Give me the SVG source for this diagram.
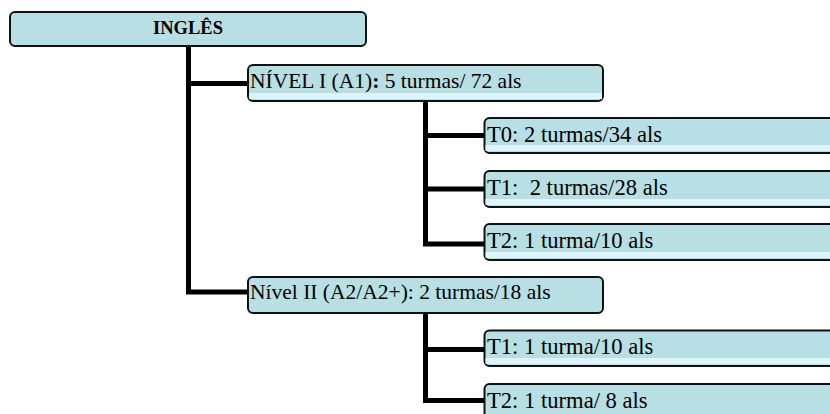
<svg xmlns="http://www.w3.org/2000/svg" width="830" height="414" viewBox="0 0 830 414">
  <style>
    .box { fill: #b8dfe3; stroke: #111; stroke-width: 2; }
    .strip { fill: #dff4fa; }
    .lbl { font-family: "Liberation Serif", "Times New Roman", serif; font-size: 21.5px; fill: #000; white-space: pre; }
    .sub { font-size: 22.6px; }
    .title { font-family: "Liberation Serif", "Times New Roman", serif; font-size: 18.5px; font-weight: bold; fill: #000; }
    .wire { fill: none; stroke: #000; stroke-width: 5; stroke-linejoin: miter; stroke-linecap: butt; }
  </style>
  <rect width="830" height="414" fill="#fff"/>

  <!-- tree connectors -->
  <g id="connectors">
    <path class="wire" d="M188.5 46 V292 H248"/>
    <path class="wire" d="M188.5 83.5 H248"/>
    <path class="wire" d="M425.5 101 V244 H484"/>
    <path class="wire" d="M425.5 135.5 H484"/>
    <path class="wire" d="M425.5 189 H484"/>
    <path class="wire" d="M425.5 313 V400.5 H484"/>
    <path class="wire" d="M425.5 349.5 H484"/>
  </g>

  <g id="ingles">
    <rect class="box" x="10" y="12" width="356" height="34" rx="5"/>
    <text class="title" x="188" y="34" text-anchor="middle">INGLÊS</text>
  </g>

  <g id="nivel1">
    <rect class="box" x="248" y="65" width="355" height="36" rx="5"/>
    <rect class="strip" x="249" y="93" width="353" height="6"/>
    <text class="lbl" x="250" y="88">NÍVEL I (A1)<tspan font-weight="bold">:</tspan> 5 turmas/ 72 als</text>
  </g>

  <g id="n1-t0">
    <rect class="box" x="484.5" y="118" width="360" height="35" rx="5"/>
    <rect class="strip" x="485.5" y="145" width="350" height="6"/>
    <text class="lbl sub" x="487" y="141.5">T0: 2 turmas/34 als</text>
  </g>

  <g id="n1-t1">
    <rect class="box" x="484.5" y="171" width="360" height="36" rx="5"/>
    <rect class="strip" x="485.5" y="199" width="350" height="6"/>
    <text class="lbl sub" x="487" y="194.5">T1:  2 turmas/28 als</text>
  </g>

  <g id="n1-t2">
    <rect class="box" x="484.5" y="224" width="360" height="36" rx="5"/>
    <rect class="strip" x="485.5" y="252" width="350" height="6"/>
    <text class="lbl sub" x="487" y="247.5">T2: 1 turma/10 als</text>
  </g>

  <g id="nivel2">
    <rect class="box" x="248" y="277" width="355" height="36" rx="5"/>
    <text class="lbl" x="250" y="299">Nível II (A2/A2+): 2 turmas/18 als</text>
  </g>

  <g id="n2-t1">
    <rect class="box" x="484.5" y="330.5" width="360" height="35.5" rx="5"/>
    <rect class="strip" x="485.5" y="358" width="350" height="6"/>
    <text class="lbl sub" x="487" y="353.5">T1: 1 turma/10 als</text>
  </g>

  <g id="n2-t2">
    <rect class="box" x="484.5" y="384" width="360" height="36" rx="5"/>
    <text class="lbl sub" x="487" y="407.5">T2: 1 turma/ 8 als</text>
  </g>
</svg>
